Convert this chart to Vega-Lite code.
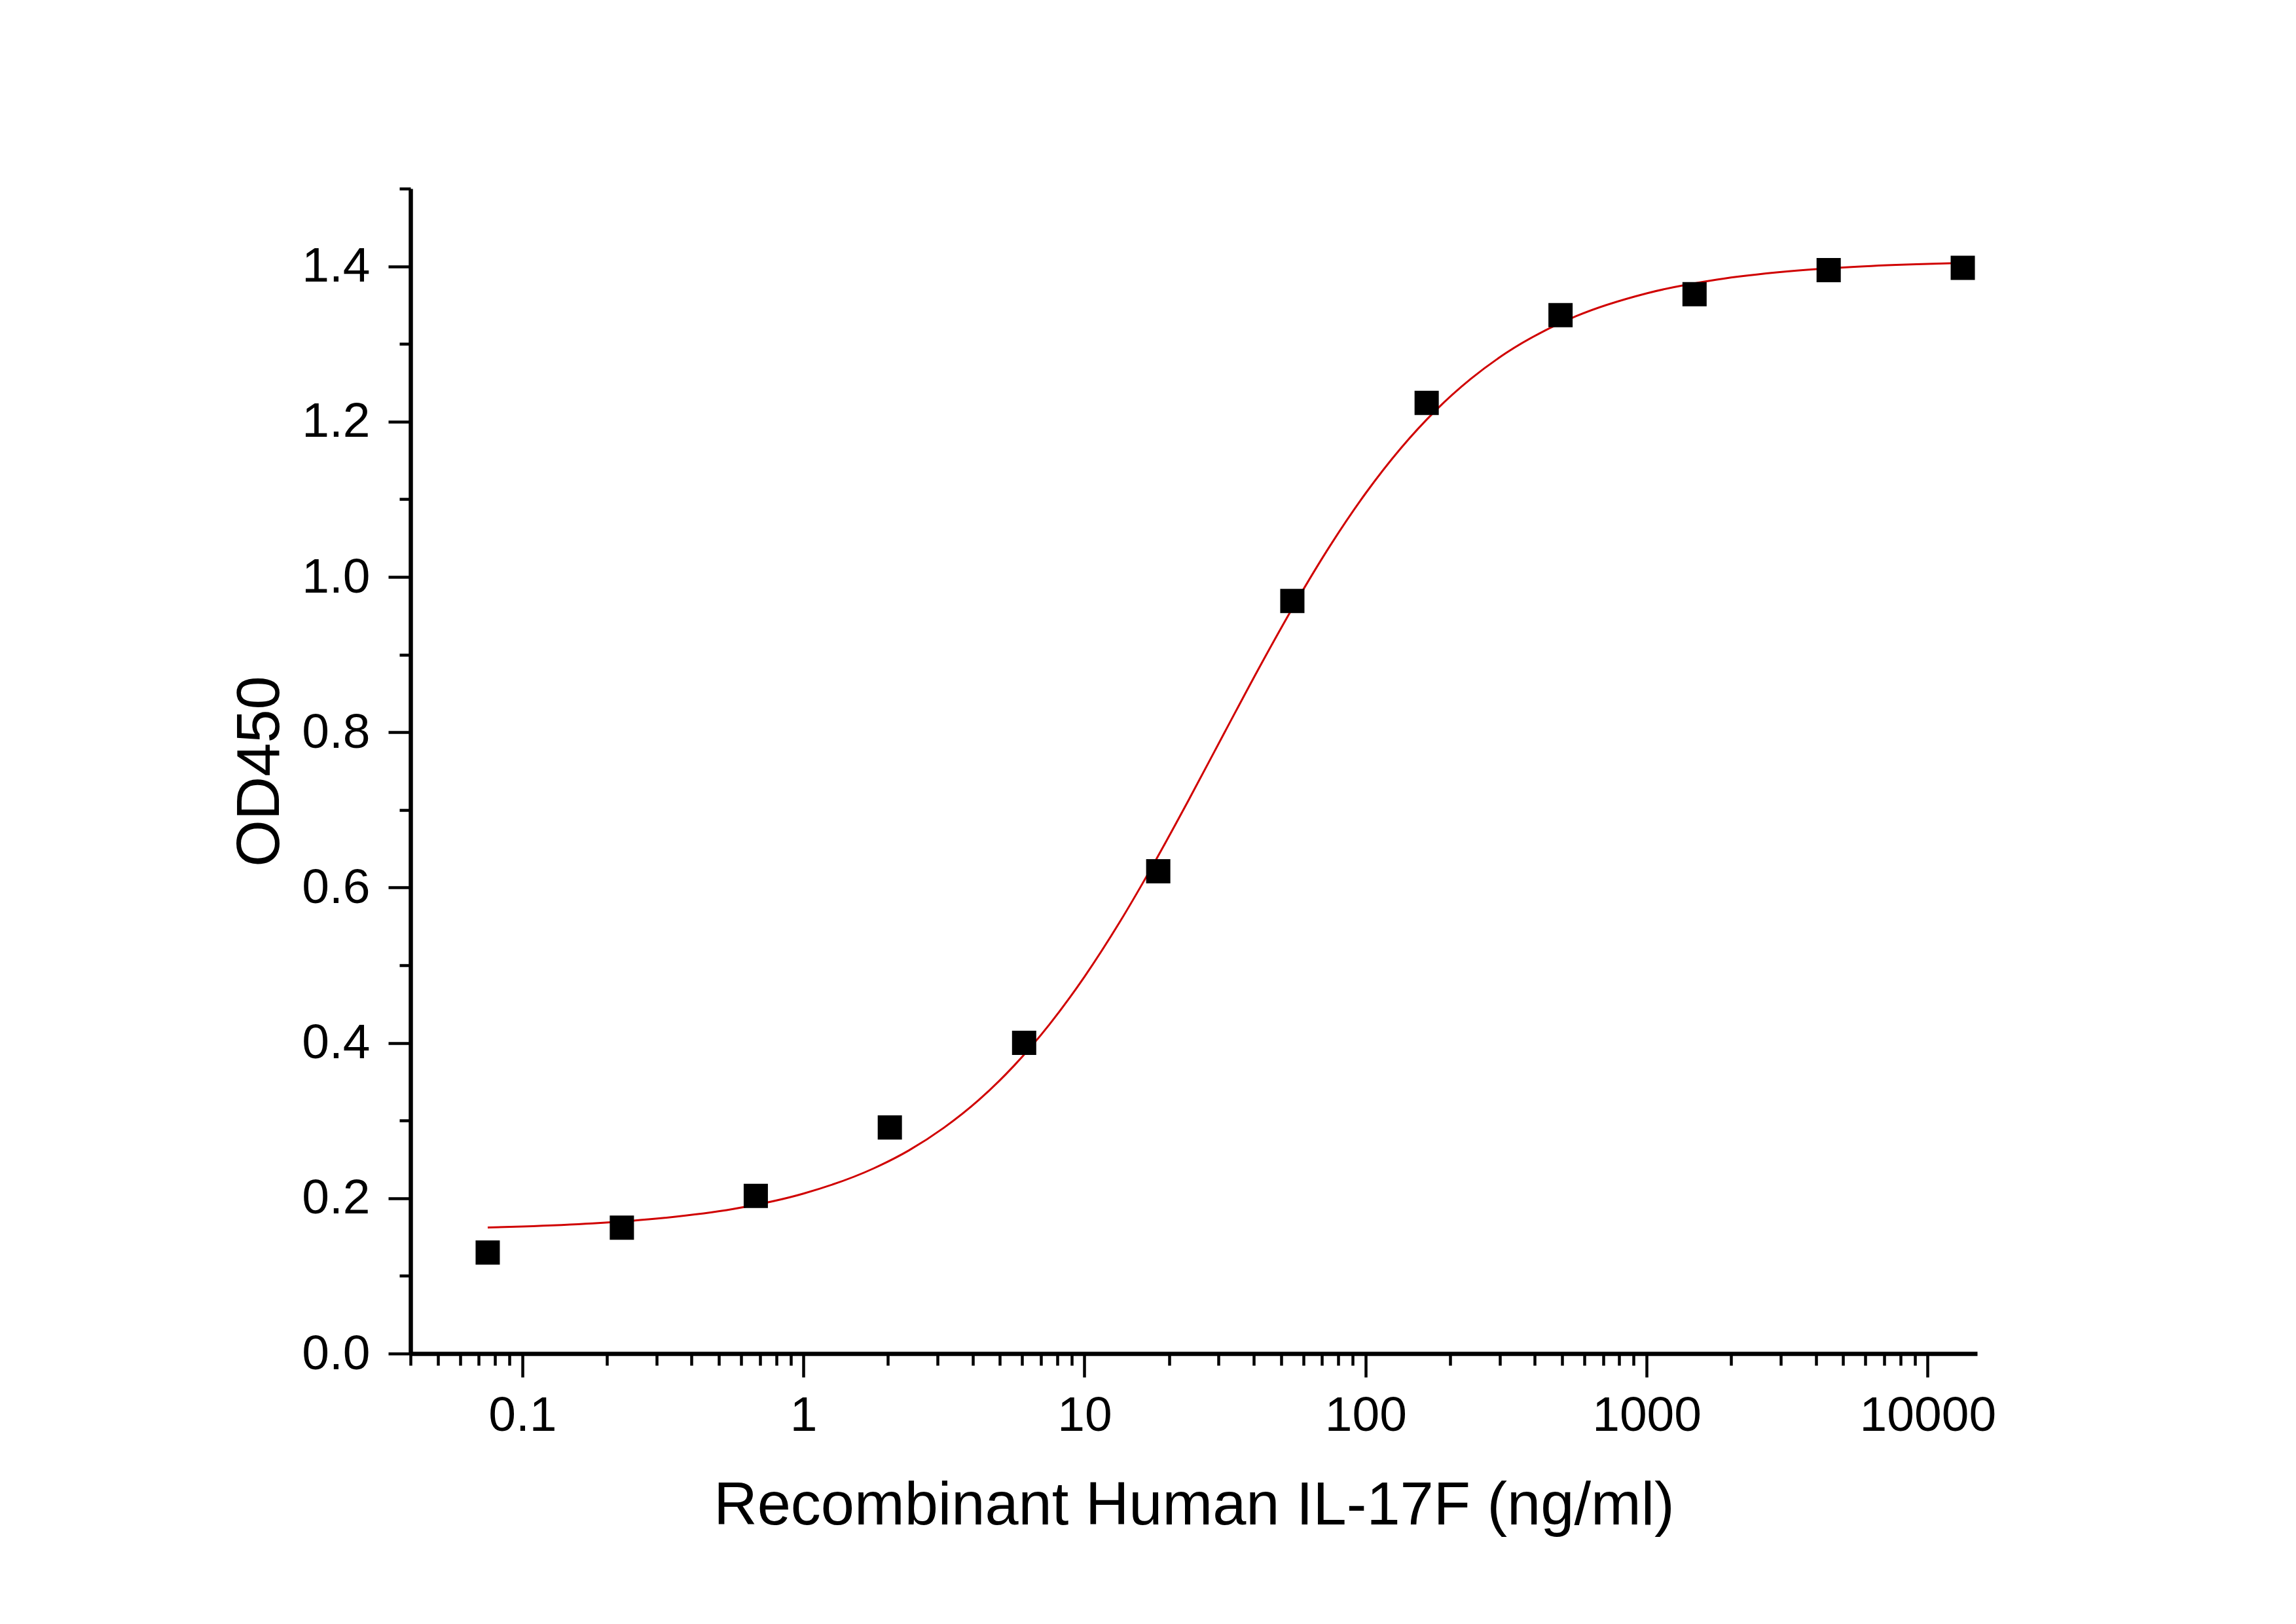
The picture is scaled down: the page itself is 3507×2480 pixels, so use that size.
{
  "$schema": "https://vega.github.io/schema/vega-lite/v6.json",
  "width": 2393,
  "height": 1779,
  "autosize": {"type": "none"},
  "padding": {"left": 627, "top": 288, "right": 487, "bottom": 413},
  "background": "white",
  "config": {
    "view": {"stroke": null},
    "font": "Liberation Sans",
    "axis": {
      "labelFont": "Liberation Sans",
      "titleFont": "Liberation Sans",
      "labelColor": "black",
      "titleColor": "black",
      "domainColor": "black",
      "tickColor": "black",
      "grid": false,
      "titleFontWeight": "normal",
      "labelLimit": 0,
      "titleLimit": 0
    }
  },
  "datasets": {
    "points": [
      {"conc": 0.0753, "od": 0.130},
      {"conc": 0.226, "od": 0.162},
      {"conc": 0.677, "od": 0.203},
      {"conc": 2.03, "od": 0.291},
      {"conc": 6.10, "od": 0.400},
      {"conc": 18.3, "od": 0.621},
      {"conc": 54.9, "od": 0.969},
      {"conc": 165, "od": 1.224},
      {"conc": 494, "od": 1.337},
      {"conc": 1481, "od": 1.364},
      {"conc": 4444, "od": 1.395},
      {"conc": 13333, "od": 1.398}
    ],
    "curve": [
      {"conc": 0.0753, "od": 0.1623},
      {"conc": 0.1, "od": 0.1636},
      {"conc": 0.1778, "od": 0.1676},
      {"conc": 0.3162, "od": 0.1745},
      {"conc": 0.5623, "od": 0.1861},
      {"conc": 1.0, "od": 0.2059},
      {"conc": 1.778, "od": 0.2384},
      {"conc": 2.371, "od": 0.2615},
      {"conc": 3.162, "od": 0.2908},
      {"conc": 4.217, "od": 0.3268},
      {"conc": 5.623, "od": 0.3709},
      {"conc": 7.499, "od": 0.4236},
      {"conc": 10.0, "od": 0.4852},
      {"conc": 13.34, "od": 0.5554},
      {"conc": 17.78, "od": 0.6329},
      {"conc": 23.71, "od": 0.7156},
      {"conc": 31.62, "od": 0.8008},
      {"conc": 42.17, "od": 0.8854},
      {"conc": 56.23, "od": 0.9661},
      {"conc": 74.99, "od": 1.0408},
      {"conc": 100, "od": 1.1075},
      {"conc": 133.4, "od": 1.1655},
      {"conc": 177.8, "od": 1.2145},
      {"conc": 237.1, "od": 1.2551},
      {"conc": 316.2, "od": 1.2883},
      {"conc": 562.3, "od": 1.3358},
      {"conc": 1000, "od": 1.3651},
      {"conc": 1778, "od": 1.3828},
      {"conc": 3162, "od": 1.3933},
      {"conc": 5623, "od": 1.3995},
      {"conc": 10000, "od": 1.4030},
      {"conc": 13335, "od": 1.4042}
    ]
  },
  "encoding": {
    "x": {
      "field": "conc",
      "type": "quantitative",
      "scale": {"type": "log", "domain": [0.04, 15000], "nice": false},
      "axis": {
        "title": "Recombinant Human IL-17F (ng/ml)",
        "titleFontSize": 92,
        "titleBaseline": "alphabetic",
        "titleY": 260,
        "values": [0.04, 0.05, 0.06, 0.07, 0.08, 0.09, 0.1, 0.2, 0.3, 0.4, 0.5, 0.6, 0.7, 0.8, 0.9, 1, 2, 3, 4, 5, 6, 7, 8, 9, 10, 20, 30, 40, 50, 60, 70, 80, 90, 100, 200, 300, 400, 500, 600, 700, 800, 900, 1000, 2000, 3000, 4000, 5000, 6000, 7000, 8000, 9000, 10000],
        "labelExpr": "indexof([0.1, 1, 10, 100, 1000, 10000], datum.value) >= 0 ? datum.value + '' : ''",
        "labelFontSize": 75,
        "labelBaseline": "alphabetic",
        "labelPadding": 81,
        "labelOverlap": false,
        "labelFlush": false,
        "labelBound": false,
        "tickSize": {"condition": {"test": "indexof([0.1, 1, 10, 100, 1000, 10000], datum.value) >= 0", "value": 36}, "value": 18},
        "tickWidth": 4.5,
        "domainWidth": 6.5
      }
    },
    "y": {
      "field": "od",
      "type": "quantitative",
      "scale": {"domain": [0, 1.5], "nice": false, "zero": false},
      "axis": {
        "title": "OD450",
        "titleFontSize": 92,
        "titleBaseline": "alphabetic",
        "titleAngle": -90,
        "titleX": -202,
        "titleY": 889.5,
        "titleAlign": "center",
        "values": [0, 0.1, 0.2, 0.3, 0.4, 0.5, 0.6, 0.7, 0.8, 0.9, 1, 1.1, 1.2, 1.3, 1.4, 1.5],
        "labelExpr": "indexof([0, 0.2, 0.4, 0.6, 0.8, 1, 1.2, 1.4], datum.value) >= 0 ? format(datum.value, '.1f') : ''",
        "labelFontSize": 75,
        "labelPadding": 28,
        "labelOverlap": false,
        "labelFlush": false,
        "labelBound": false,
        "tickSize": {"condition": {"test": "indexof([0, 0.2, 0.4, 0.6, 0.8, 1, 1.2, 1.4], datum.value) >= 0", "value": 34}, "value": 17},
        "tickWidth": 4.5,
        "domainWidth": 6.5
      }
    }
  },
  "layer": [
    {
      "data": {"name": "curve"},
      "mark": {"type": "line", "color": "#d00000", "strokeWidth": 3, "interpolate": "monotone", "clip": true}
    },
    {
      "data": {"name": "points"},
      "mark": {"type": "point", "shape": "square", "filled": true, "color": "black", "opacity": 1, "size": 1369, "strokeWidth": 0}
    }
  ]
}
